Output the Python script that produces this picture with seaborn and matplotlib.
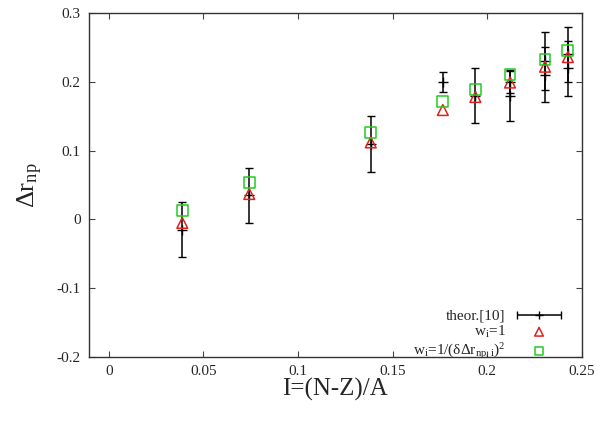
import numpy as np
import pandas as pd
import matplotlib
matplotlib.use("Agg")
import matplotlib.pyplot as plt
from matplotlib.legend_handler import HandlerErrorbar
import seaborn as sns

# theoretical values [10] with error bars (some I share two entries)
x_theor = [0.0388, 0.0742, 0.1384, 0.1765, 0.1937, 0.212, 0.212, 0.2305, 0.2305, 0.2426, 0.2426]
y_theor = [-0.015, 0.035, 0.110, 0.200, 0.180, 0.180, 0.200, 0.230, 0.210, 0.240, 0.220]
err_theor = [0.040, 0.040, 0.041, 0.015, 0.040, 0.037, 0.016, 0.042, 0.040, 0.040, 0.040]

# fitted values for the two weightings
x_fit = [0.0388, 0.0742, 0.1384, 0.1765, 0.1937, 0.212, 0.2305, 0.2426]
y_w1 = [-0.005, 0.037, 0.112, 0.159, 0.178, 0.199, 0.222, 0.236]
y_wsig = [0.013, 0.053, 0.126, 0.171, 0.189, 0.211, 0.233, 0.246]

sns.set_style("ticks")
plt.rcParams['font.family'] = ['Liberation Serif', 'DejaVu Serif']
plt.rcParams['mathtext.fontset'] = 'stix'

fig = plt.figure(figsize=(6.03, 4.21), dpi=100)
ax = fig.add_axes([0.1476, 0.152, 0.8174, 0.817])

# theor points
ax.errorbar(x_theor, y_theor, yerr=err_theor, fmt='+', color='black',
            ms=7, mew=1.0, elinewidth=1.1, capsize=3, capthick=1.0, zorder=2)
# legend handle drawn as horizontal bar like the original
h_theor = ax.errorbar([np.nan], [np.nan], xerr=[0.01], fmt='+', color='black',
                      ms=7, mew=1.0, elinewidth=1.1, capsize=3, capthick=1.0)

df = pd.DataFrame({'I': x_fit, 'w1': y_w1, 'wsig': y_wsig})
sns.scatterplot(data=df, x='I', y='w1', marker='^', s=60, facecolor='none',
                edgecolor='#e0201b', linewidth=1.1, ax=ax, zorder=3,
                label='$\\mathregular{w_i}$=1')
sns.scatterplot(data=df, x='I', y='wsig', marker='s', s=62, facecolor='none',
                edgecolor='#22cc22', linewidth=1.1, ax=ax, zorder=4,
                label='$\\mathregular{w_i}$=1/(δΔ$\\mathregular{r_{np,i}}$)$^\\mathregular{2}$')

ax.set_xlim(-0.0105, 0.25)
ax.set_ylim(-0.2, 0.3)
ax.set_xticks([0, 0.05, 0.1, 0.15, 0.2, 0.25])
ax.set_xticklabels(['0', '0.05', '0.1', '0.15', '0.2', '0.25'])
ax.set_yticks([-0.2, -0.1, 0, 0.1, 0.2, 0.3])
ax.set_yticklabels(['-0.2', '-0.1', '0', '0.1', '0.2', '0.3'])
ax.tick_params(direction='in', top=True, right=True, labelsize=11,
               length=4, width=0.8, color='#444444', pad=6)
for sp in ax.spines.values():
    sp.set_linewidth(1.0)
    sp.set_color('#333333')

ax.set_xlabel('I=(N-Z)/A', fontsize=18, labelpad=0)
ax.set_ylabel('Δ$\\mathregular{r_{np}}$', fontsize=19, labelpad=8)

handles, labels = ax.get_legend_handles_labels()
ax.legend([h_theor] + handles, ['theor.[10]'] + labels,
          handler_map={h_theor: HandlerErrorbar(xerr_size=1.45)},
          loc='lower right', bbox_to_anchor=(0.975, -0.03),
          frameon=False, markerfirst=False, fontsize=11, markerscale=0.8,
          handlelength=3.2, handletextpad=0.6, labelspacing=0.05,
          borderaxespad=0.0)

fig.savefig('out.png', dpi=100)
